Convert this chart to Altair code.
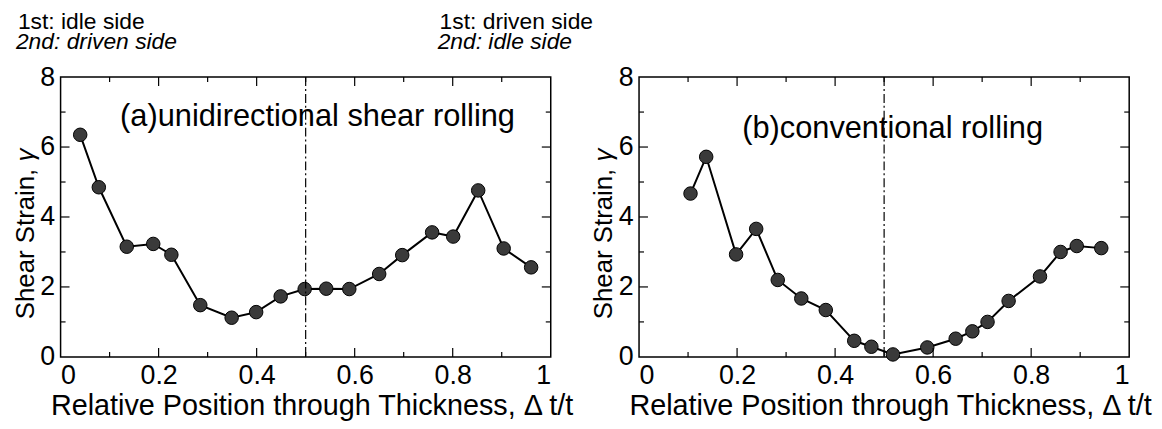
import altair as alt
import pandas as pd

# ---- data ----
X_A = [0.040, 0.078, 0.135, 0.189, 0.226, 0.285, 0.349, 0.399, 0.449, 0.498,
       0.542, 0.589, 0.650, 0.697, 0.758, 0.801, 0.852, 0.904, 0.960]
Y_A = [6.35, 4.85, 3.15, 3.23, 2.92, 1.48, 1.12, 1.28, 1.73, 1.94,
       1.95, 1.94, 2.37, 2.91, 3.56, 3.44, 4.76, 3.10, 2.56]

X_B = [0.105, 0.137, 0.198, 0.239, 0.283, 0.331, 0.381, 0.439, 0.474, 0.518,
       0.588, 0.646, 0.680, 0.711, 0.754, 0.818, 0.860, 0.893, 0.943]
Y_B = [4.67, 5.72, 2.93, 3.66, 2.20, 1.67, 1.34, 0.46, 0.29, 0.07,
       0.27, 0.52, 0.73, 1.00, 1.60, 2.30, 3.00, 3.17, 3.11]

X_TICKS = [0, 0.2, 0.4, 0.6, 0.8, 1]
Y_TICKS = [0, 2, 4, 6, 8]
X_MAJOR = [0.2, 0.4, 0.6, 0.8]
X_MINOR = [0.1, 0.3, 0.5, 0.7, 0.9]
Y_MAJOR = [2, 4, 6]
Y_MINOR = [1, 3, 5, 7]
X_DOMAIN = [0, 1]
Y_DOMAIN = [0, 8]
MID = [0.5]

TITLE_A = "(a)unidirectional shear rolling"
TITLE_B = "(b)conventional rolling"
X_TITLE = "Relative Position through Thickness, \u0394 t/t"
Y_TITLE = "Shear Strain,"
Y_SYMBOL = "\u03b3"
NOTE_1 = ["1st: idle side", "2nd: driven side"]
NOTE_2 = ["1st: driven side", "2nd: idle side"]

W, H = 494, 282
FONT = "Liberation Sans"
MAJ, MIN = 9, 5


def text_layer(s, x, y, size, italic=False, angle=0, align="left"):
    return alt.Chart(alt.Data(values=[{"t": s}])).mark_text(
        align=align, baseline="alphabetic", font=FONT, fontSize=size, angle=angle,
        fontStyle="italic" if italic else "normal", color="black"
    ).encode(text="t:N", x=alt.value(x), y=alt.value(y))


def panel(xs, ys, title, title_x, title_y, notes):
    df = pd.DataFrame({"x": xs, "y": ys})
    xsc = alt.Scale(domain=X_DOMAIN, nice=False, zero=False)
    ysc = alt.Scale(domain=Y_DOMAIN, nice=False, zero=False)
    xax = alt.Axis(values=X_TICKS, format="~g", title=X_TITLE, titleX=W / 2 + 6)
    yax = alt.Axis(values=Y_TICKS, format="~g", title=None)
    xenc = alt.X("x:Q", scale=xsc, axis=xax)
    yenc = alt.Y("y:Q", scale=ysc, axis=yax)

    line = alt.Chart(df).mark_line(color="black", strokeWidth=2).encode(
        x=xenc, y=yenc, order="x:Q")
    pts = alt.Chart(df).mark_circle(size=185, color="#3a3a3a", stroke="black",
                                    strokeWidth=1, opacity=1).encode(x=xenc, y=yenc)
    mid = alt.Chart(pd.DataFrame({"x": MID})).mark_rule(
        color="black", strokeWidth=1.2, strokeDash=[9, 3, 2, 3]
    ).encode(x=xenc, y=alt.value(0), y2=alt.value(H))

    layers = [line, pts, mid]
    for vals, ln in ((X_MAJOR, MAJ), (X_MINOR, MIN)):
        d = pd.DataFrame({"x": vals})
        layers.append(alt.Chart(d).mark_rule(color="black", strokeWidth=1.2).encode(
            x=xenc, y=alt.value(H), y2=alt.value(H - ln)))
        layers.append(alt.Chart(d).mark_rule(color="black", strokeWidth=1.2).encode(
            x=xenc, y=alt.value(0), y2=alt.value(ln)))
    for vals, ln in ((Y_MAJOR, MAJ), (Y_MINOR, MIN)):
        d = pd.DataFrame({"y": vals})
        layers.append(alt.Chart(d).mark_rule(color="black", strokeWidth=1.2).encode(
            y=yenc, x=alt.value(0), x2=alt.value(ln)))
        layers.append(alt.Chart(d).mark_rule(color="black", strokeWidth=1.2).encode(
            y=yenc, x=alt.value(W), x2=alt.value(W - ln)))

    # rotated y title with italic gamma
    layers.append(text_layer(Y_TITLE, -27, 244, 26, angle=270, align="left"))
    layers.append(text_layer(Y_SYMBOL, -27, 72, 26, italic=True, angle=270, align="right"))

    layers.append(text_layer(title, title_x, title_y, 31))
    for nx, lines in notes:
        layers.append(text_layer(lines[0], nx + 2, -48, 23))
        layers.append(text_layer(lines[1], nx, -28, 23, italic=True))
    return alt.layer(*layers).properties(width=W, height=H)


pa = panel(X_A, Y_A, TITLE_A, 60, 49, [(-45, NOTE_1), (380, NOTE_2)])
pb = panel(X_B, Y_B, TITLE_B, 104, 61, [])

chart = alt.hconcat(pa, pb, spacing=89, bounds="flush").configure(
    padding={"top": 1, "left": 4, "right": 0, "bottom": 0}, background="white"
).configure_view(
    stroke="black", strokeWidth=1.5
).configure_axis(
    ticks=False, domain=False, grid=False,
    labelFont=FONT, labelFontSize=27, labelColor="black",
    titleFont=FONT, titleFontSize=29, titleColor="black", titleFontWeight="normal",
)
chart = chart.configure_axisX(labelPadding=6, titlePadding=3)
chart = chart.configure_axisY(labelPadding=6)

chart.save("out.html", embed_options={"renderer": "svg", "actions": False})
